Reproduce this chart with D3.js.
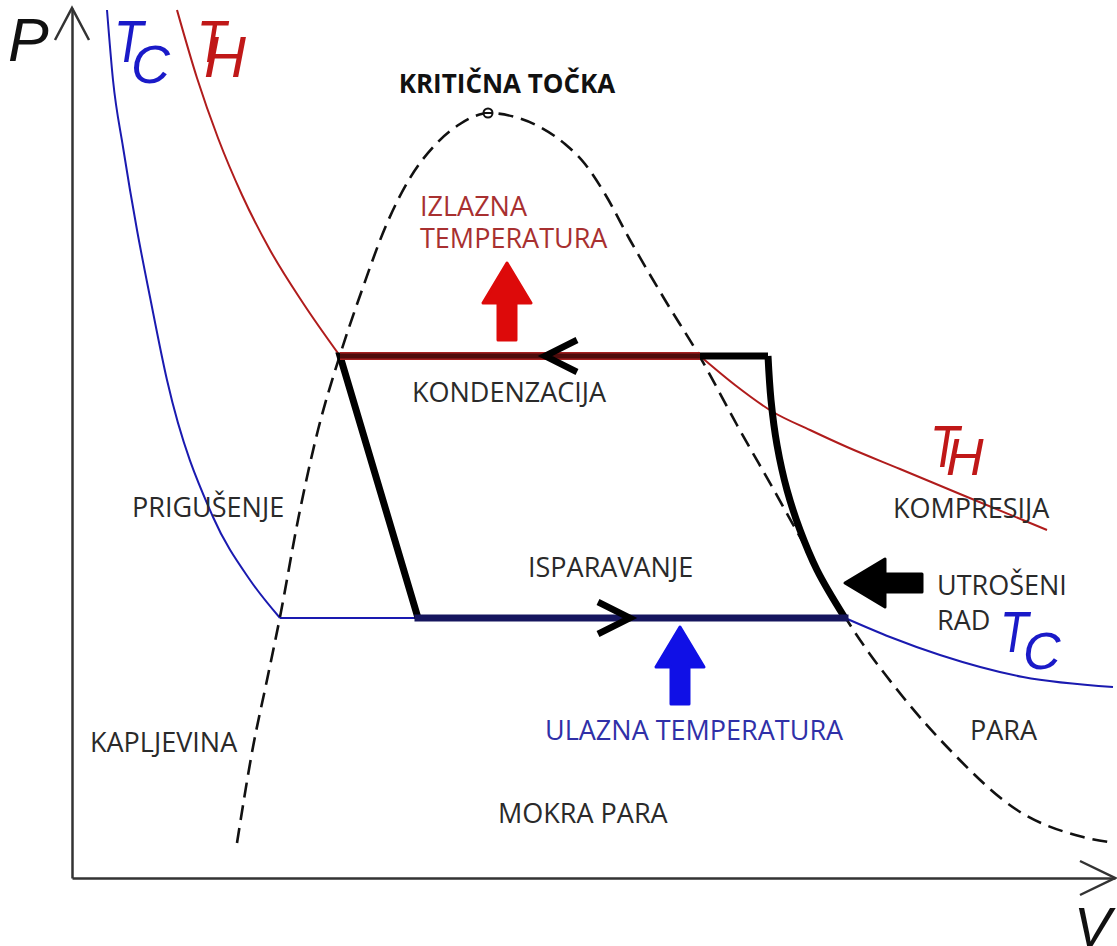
<!DOCTYPE html>
<html>
<head>
<meta charset="utf-8">
<script src="https://cdn.jsdelivr.net/npm/d3@7"></script>
<style>
  body { margin: 0; background: #fff; }
  svg { display: block; }
  .lbl { font-family: "Open Sans", sans-serif; font-size: 27px; fill: #2a2a2a; }
  .sym { font-family: "Liberation Sans", Arial, sans-serif; font-style: italic; }
</style>
</head>
<body>
<svg id="chart" width="1117" height="946"></svg>
<script>
// P-V diagram of a heat pump cycle (V, P in arbitrary units)
var dome = [[1.65,0.35],[1.81,1.31],[1.95,1.98],[2.08,2.61],[2.26,3.58],[2.46,4.48],[2.68,5.23],
  [2.90,5.88],[3.13,6.50],[3.38,7.00],[3.63,7.33],[3.88,7.54],[4.03,7.62],[4.16,7.65],
  [4.43,7.61],[4.68,7.51],[4.93,7.34],[5.13,7.14],[5.33,6.84],[5.58,6.38],[5.93,5.78],[6.28,5.21],
  [6.65,4.53],[7.03,3.86],[7.38,3.23],[7.75,2.58],[8.31,1.81],[8.78,1.28],[9.45,0.68],[10.11,0.41],[10.43,0.35]];
var criticalPoint = [4.16, 7.65];

var pHot = 5.22, pCold = 2.60;
var hotLeft = [[1.05,8.68],[1.25,8.00],[1.46,7.40],[1.70,6.83],[1.98,6.28],[2.31,5.75],[2.68,5.22]];
var hotRight = [[6.28,5.22],[6.63,4.93],[7.01,4.66],[7.38,4.48],[7.75,4.31],[8.28,4.09],[8.88,3.84],[9.75,3.48]];
var coldLeft = [[0.35,8.68],[0.41,7.98],[0.51,7.31],[0.65,6.48],[0.78,5.81],[0.95,4.98],[1.41,3.61],[1.78,2.98],[2.08,2.60]];
var coldRight = [[7.73,2.60],[8.18,2.41],[8.68,2.23],[9.51,2.01],[10.41,1.91]];

// cycle: throttling A->D, evaporation D->C, compression C->B, condensation B->A
var cycleA = [2.68, 5.22], cycleB = [6.96, 5.22], cycleC = [7.73, 2.60], cycleD = [3.46, 2.60];
var compression = [[6.96,5.22],[6.99,4.78],[7.05,4.33],[7.15,3.88],[7.28,3.48],[7.45,3.08],[7.73,2.60]];
var condensEnd = 6.28; // where the hot isotherm leaves the condensation line

var flowArrows = [{ at: [4.73, pHot], dir: -1 }, { at: [5.58, pCold], dir: 1 }];
var blockArrows = [
  { tip: [4.35, 6.15], rot: 0, color: "#dd0a0a" },
  { tip: [6.08, 2.51], rot: 0, color: "#1010e6" },
  { tip: [7.73, 2.95], rot: -90, color: "#000" }
];

var labels = [
  { t: "KRITIČNA TOČKA", v: 4.35, p: 7.85, anchor: "middle", bold: true, color: "#111" },
  { t: "IZLAZNA", v: 3.48, p: 6.62, color: "#a83030" },
  { t: "TEMPERATURA", v: 3.48, p: 6.30, color: "#a83030" },
  { t: "KONDENZACIJA", v: 3.40, p: 4.76 },
  { t: "PRIGUŠENJE", v: 0.60, p: 3.61 },
  { t: "ISPARAVANJE", v: 4.56, p: 3.01 },
  { t: "ULAZNA TEMPERATURA", v: 4.73, p: 1.38, color: "#3030a8" },
  { t: "KOMPRESIJA", v: 8.21, p: 3.60 },
  { t: "UTROŠENI", v: 8.65, p: 2.83 },
  { t: "RAD", v: 8.65, p: 2.48 },
  { t: "KAPLJEVINA", v: 0.18, p: 1.26 },
  { t: "MOKRA PARA", v: 4.26, p: 0.55 },
  { t: "PARA", v: 8.98, p: 1.38 }
];

// axis / isotherm symbols
var symbols = [
  { t: "P", v: -0.64, p: 8.17, size: 61, sx: 1, color: "#111" },
  { t: "V", v: 10.02, p: -0.68, size: 56, sx: 1, color: "#111" },
  { t: "T", v: 0.42, p: 8.16, size: 60, sx: 0.8, color: "#1a1ac8" },
  { t: "C", v: 0.59, p: 7.95, size: 54, sx: 1, color: "#1a1ac8" },
  { t: "T", v: 1.25, p: 8.16, size: 60, sx: 0.8, color: "#c01818" },
  { t: "H", v: 1.32, p: 8.01, size: 58, sx: 1, color: "#c01818" },
  { t: "T", v: 8.58, p: 4.11, size: 60, sx: 0.8, color: "#c01818" },
  { t: "H", v: 8.74, p: 4.03, size: 52, sx: 1, color: "#c01818" },
  { t: "T", v: 9.28, p: 2.26, size: 58, sx: 0.8, color: "#1a1ac8" },
  { t: "C", v: 9.51, p: 2.09, size: 52, sx: 1, color: "#1a1ac8" }
];

var svg = d3.select("#chart");
var x = d3.scaleLinear().domain([0, 10.43]).range([72, 1115]);
var y = d3.scaleLinear().domain([0, 8.70]).range([878, 8]);

var smooth = d3.line().x(function (d) { return x(d[0]); }).y(function (d) { return y(d[1]); }).curve(d3.curveMonotoneX);
var smoothY = d3.line().x(function (d) { return x(d[0]); }).y(function (d) { return y(d[1]); }).curve(d3.curveMonotoneY);
var straight = d3.line().x(function (d) { return x(d[0]); }).y(function (d) { return y(d[1]); });

// axes, no ticks
svg.append("g").attr("transform", "translate(0," + y(0) + ")")
  .call(d3.axisBottom(x).tickValues([]).tickSizeOuter(0))
  .select(".domain").attr("stroke", "#333").attr("stroke-width", 2.5);
svg.append("g").attr("transform", "translate(" + x(0) + ",0)")
  .call(d3.axisLeft(y).tickValues([]).tickSizeOuter(0))
  .select(".domain").attr("stroke", "#333").attr("stroke-width", 2.5);
svg.append("path")
  .attr("d", "M" + (x(0) - 17) + "," + (y(8.70) + 32) + "L" + x(0) + "," + y(8.70) + "L" + (x(0) + 17) + "," + (y(8.70) + 32)
    + "M" + (x(10.43) - 35) + "," + (y(0) - 17) + "L" + x(10.43) + "," + y(0) + "L" + (x(10.43) - 35) + "," + (y(0) + 17))
  .attr("fill", "none").attr("stroke", "#333").attr("stroke-width", 2.5);

// isotherms (thin)
svg.append("path").attr("d", smooth(hotLeft)).attr("fill", "none").attr("stroke", "#b01c1c").attr("stroke-width", 2);
svg.append("path").attr("d", smooth(hotRight)).attr("fill", "none").attr("stroke", "#b01c1c").attr("stroke-width", 2);
svg.append("path").attr("d", smooth(coldLeft)).attr("fill", "none").attr("stroke", "#1a1ab0").attr("stroke-width", 2);
svg.append("path").attr("d", straight([coldLeft[coldLeft.length - 1], cycleD])).attr("fill", "none").attr("stroke", "#1a1ab0").attr("stroke-width", 2);
svg.append("path").attr("d", smooth(coldRight)).attr("fill", "none").attr("stroke", "#1a1ab0").attr("stroke-width", 2);

// saturation dome
svg.append("path").attr("d", smooth(dome)).attr("fill", "none").attr("stroke", "#111")
  .attr("stroke-width", 2.6).attr("stroke-dasharray", "15,8");

// cycle
svg.append("path").attr("d", straight([cycleD, cycleA, cycleB]))
  .attr("fill", "none").attr("stroke", "#000").attr("stroke-width", 7).attr("stroke-linejoin", "miter");
svg.append("path").attr("d", smoothY(compression))
  .attr("fill", "none").attr("stroke", "#000").attr("stroke-width", 7);
svg.append("path").attr("d", straight([cycleA, [condensEnd, pHot]]))
  .attr("fill", "none").attr("stroke", "#a52020").attr("stroke-width", 8);
svg.append("path").attr("d", straight([cycleA, [condensEnd, pHot]]))
  .attr("fill", "none").attr("stroke", "#4e0c0c").attr("stroke-width", 5);
svg.append("path").attr("d", straight([cycleD, cycleC]))
  .attr("fill", "none").attr("stroke", "#16165e").attr("stroke-width", 7).attr("stroke-linecap", "square");

// flow direction chevrons
svg.selectAll(".flow").data(flowArrows).enter().append("path")
  .attr("class", "flow")
  .attr("d", function (d) {
    var tx = x(d.at[0]), ty = y(d.at[1]), bx = tx - d.dir * 32;
    return "M" + bx + "," + (ty - 16) + "L" + tx + "," + ty + "L" + bx + "," + (ty + 16);
  })
  .attr("fill", "none").attr("stroke", "#000").attr("stroke-width", 6.5);

// critical point
svg.append("circle").attr("cx", x(criticalPoint[0])).attr("cy", y(criticalPoint[1])).attr("r", 4.5)
  .attr("fill", "#fff").attr("stroke", "#111").attr("stroke-width", 2);
svg.append("line").attr("x1", x(criticalPoint[0]) - 5).attr("x2", x(criticalPoint[0]) + 5)
  .attr("y1", y(criticalPoint[1])).attr("y2", y(criticalPoint[1])).attr("stroke", "#111").attr("stroke-width", 2);

// block arrows
var arrowShape = [[0,0],[24,40],[9,40],[9,77],[-9,77],[-9,40],[-24,40]];
svg.selectAll(".blk").data(blockArrows).enter().append("polygon")
  .attr("class", "blk")
  .attr("points", arrowShape.map(function (p) { return p.join(","); }).join(" "))
  .attr("transform", function (d) { return "translate(" + x(d.tip[0]) + "," + y(d.tip[1]) + ") rotate(" + d.rot + ")"; })
  .attr("fill", function (d) { return d.color; })
  .attr("stroke", function (d) { return d.color; })
  .attr("stroke-width", 3).attr("stroke-linejoin", "round");

// region labels
svg.selectAll(".lbl").data(labels).enter().append("text")
  .attr("class", "lbl")
  .attr("x", function (d) { return x(d.v); })
  .attr("y", function (d) { return y(d.p); })
  .attr("text-anchor", function (d) { return d.anchor || "start"; })
  .attr("font-weight", function (d) { return d.bold ? "bold" : null; })
  .style("font-size", function (d) { return d.bold ? "26px" : null; })
  .style("fill", function (d) { return d.color || null; })
  .text(function (d) { return d.t; });

// symbols
svg.selectAll(".sym").data(symbols).enter().append("text")
  .attr("class", "sym")
  .attr("transform", function (d) { return "translate(" + x(d.v) + "," + y(d.p) + ") scale(" + d.sx + ",1)"; })
  .attr("fill", function (d) { return d.color; })
  .style("font-size", function (d) { return d.size + "px"; })
  .text(function (d) { return d.t; });
</script>
</body>
</html>
